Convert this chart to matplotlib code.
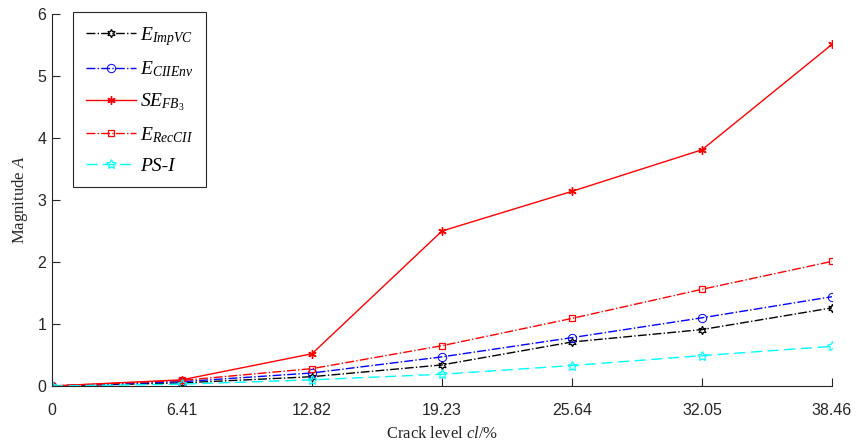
import numpy as np
import matplotlib
matplotlib.use("Agg")
import matplotlib.pyplot as plt

plt.rcParams['mathtext.fontset'] = 'custom'
plt.rcParams['mathtext.rm'] = 'Liberation Serif'
plt.rcParams['mathtext.it'] = 'Liberation Serif:italic'
plt.rcParams['mathtext.bf'] = 'Liberation Serif:bold'

# crack levels (%) and magnitudes of each indicator
crack_level = [0, 6.41, 12.82, 19.23, 25.64, 32.05, 38.46]
e_impvc = [0, 0.05, 0.15, 0.34, 0.71, 0.91, 1.26]
e_cii_env = [0, 0.07, 0.21, 0.47, 0.78, 1.10, 1.44]
se_fb3 = [0, 0.10, 0.52, 2.50, 3.14, 3.81, 5.51]
e_rec_cii = [0, 0.09, 0.28, 0.65, 1.09, 1.56, 2.01]
ps_i = [0, 0.03, 0.10, 0.19, 0.33, 0.49, 0.64]

x_ticks = ['0', '6.41', '12.82', '19.23', '25.64', '32.05', '38.46']

fig = plt.figure(figsize=(8.6, 4.45), dpi=100)
ax = fig.add_axes([52 / 860, (445 - 386) / 445, 780 / 860, 372 / 445])

ax.plot(crack_level, e_impvc, color='black', ls='-.', lw=1.0,
        marker=(6, 1, 0), ms=6, mfc='none', mew=0.9, label=r'$E_{ImpVC}$')
ax.plot(crack_level, e_cii_env, color='blue', ls='-.', lw=1.0,
        marker='o', ms=6, mfc='none', mew=0.7, label=r'$E_{CIIEnv}$')
ax.plot(crack_level, se_fb3, color='red', ls='-', lw=1.0,
        marker=(6, 2, 0), ms=6, mew=1.0, label=r'$SE_{FB_3}$')
ax.plot(crack_level, e_rec_cii, color='red', ls='-.', lw=1.0,
        marker='s', ms=5, mfc='none', mew=0.9, label=r'$E_{RecCII}$')
ax.plot(crack_level, ps_i, color='cyan', ls=(0, (8, 4)), lw=1.0,
        marker=(5, 1, 0), ms=7, mfc='none', mew=0.9, label='PS-I')

ax.set_xlim(0, 38.46)
ax.set_ylim(0, 6)
ax.set_xticks(crack_level)
ax.set_xticklabels(x_ticks)
ax.set_yticks(range(7))

grey = '#262626'
for side in ['top', 'right']:
    ax.spines[side].set_visible(False)
for side in ['left', 'bottom']:
    ax.spines[side].set_color(grey)
    ax.spines[side].set_linewidth(0.8)
ax.tick_params(direction='in', length=6, width=0.8, color=grey,
               labelcolor=grey, labelsize=11.5)
ax.tick_params(axis='x', pad=12)
ax.tick_params(axis='y', pad=4)
for lab in ax.get_xticklabels() + ax.get_yticklabels():
    lab.set_family(['Liberation Sans Narrow', 'Liberation Sans', 'DejaVu Sans'])

ax.set_xlabel(r'Crack level $cl$/%', family='Liberation Serif', fontsize=12,
              color=grey, labelpad=6)
ax.set_ylabel(r'Magnitude $A$', family='Liberation Serif', fontsize=12,
              color=grey, labelpad=5)

leg = ax.legend(loc='upper left', bbox_to_anchor=(0.027, 1.005), borderaxespad=0,
                prop={'family': 'Liberation Serif', 'style': 'italic', 'size': 14},
                handlelength=2.6, handletextpad=0.2, labelspacing=0.62,
                borderpad=0.65, fancybox=False, framealpha=1)
leg.get_frame().set_edgecolor(grey)
leg.get_frame().set_linewidth(0.8)

fig.savefig('out.png', dpi=100)
